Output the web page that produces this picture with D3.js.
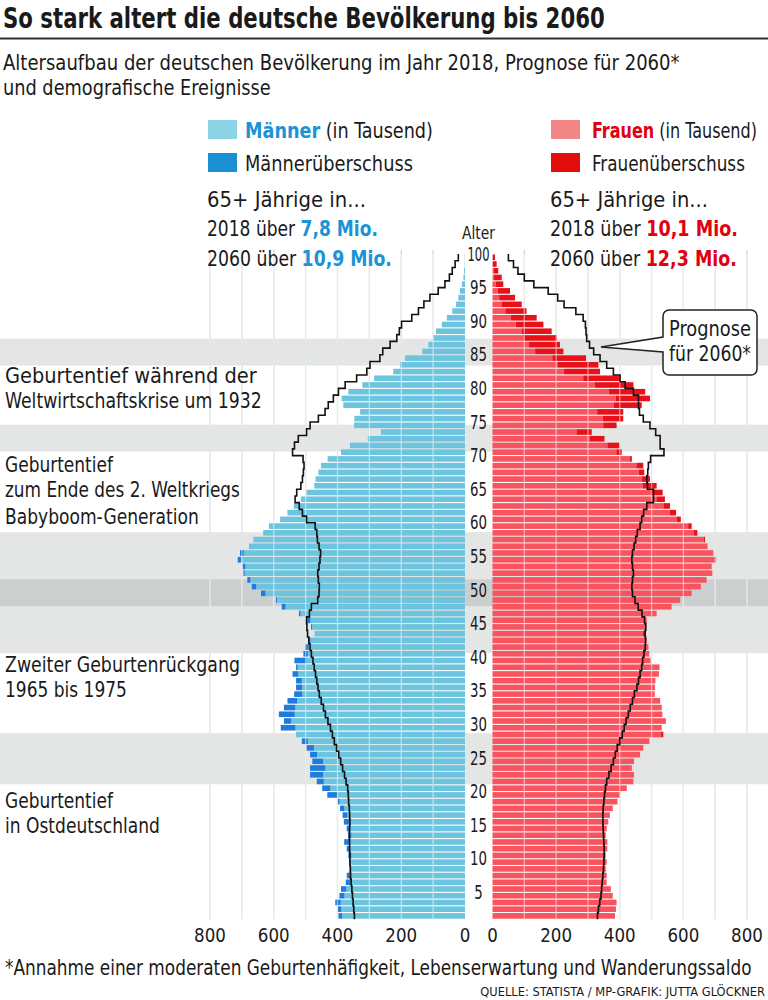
<!DOCTYPE html>
<html>
<head>
<meta charset="utf-8">
<script src="https://cdn.jsdelivr.net/npm/d3@7"></script>
<style>
  html, body { margin: 0; padding: 0; background: #fff; }
  svg { display: block; }
</style>
</head>
<body>
<svg id="chart" width="768" height="1000"></svg>
<script>
// ---------------- DATA ----------------
// Ages 1..99 (bottom bar = 1)
const ages = d3.range(1, 100);

const men2018 = [397,399,407,394,389,374,371,361,364,366,
  371,379,366,371,380,384,392,399,432,448,
  465,486,486,479,486,497,512,530,578,568,
  584,568,557,536,530,530,541,530,535,507,
  502,492,472,483,495,521,575,593,640,669,
  683,695,697,713,706,677,664,633,615,580,
  557,537,515,497,473,469,460,452,431,389,
  361,305,264,348,347,329,382,387,366,322,
  285,225,204,188,134,115,99,91,73,57,
  40,28,21,16,10,5,3,1,1];

const women2018 = [385,388,390,378,372,359,359,356,359,356,
  361,361,356,359,364,369,378,393,401,422,
  443,445,438,445,464,474,493,537,532,545,
  534,532,527,510,511,512,523,525,497,493,
  490,485,480,480,485,516,563,590,626,655,
  673,691,689,703,694,676,668,644,626,592,
  577,558,542,535,516,495,477,474,438,406,
  399,352,312,390,411,411,469,495,480,443,
  401,338,333,294,223,212,202,186,160,139,
  107,92,71,55,34,29,18,13,8];

const men2060 = [347,349,351,353,355,357,359,360,361,361,
  362,362,363,362,361,362,363,365,366,368,
  373,378,384,390,396,403,410,416,422,430,
  438,444,451,457,461,465,469,473,477,482,
  486,490,494,496,497,488,482,462,458,457,
  460,462,458,455,453,458,463,465,470,497,
  510,520,533,528,515,510,507,505,508,541,
  535,523,497,486,460,439,429,413,397,376,
  340,308,298,267,258,235,214,206,199,167,
  146,129,110,84,63,49,40,31,21];

const women2060 = [330,333,337,341,343,345,347,349,350,351,
  351,350,349,348,347,347,348,350,352,355,
  359,366,373,380,386,392,400,408,414,420,
  427,433,440,446,454,459,464,469,472,476,
  480,481,480,482,478,470,458,448,440,438,
  440,443,440,438,440,445,450,455,464,469,
  475,485,506,506,487,485,488,490,497,539,
  527,527,513,495,474,462,459,459,443,417,
  401,380,359,338,318,305,296,294,292,285,
  262,225,205,175,130,100,80,66,50];

const ageTicks = [5,10,15,20,25,30,35,40,45,50,55,60,65,70,75,80,85,90,95,100];
const valueTicks = [0,200,400,600,800];
const gridValues = [100,200,300,400,500,600,700,800];

// demographic event bands (age boundaries) and their labels
const eventBands = [[82.4,86.4],[69.6,73.6],[46.6,57.6],[39.6,50.6],[20.1,27.7]];
const eventLabels = [
  {lines:["Geburtentief während der","Weltwirtschaftskrise um 1932"], y:383, w:[252,257]},
  {lines:["Geburtentief","zum Ende des 2. Weltkriegs"], y:472, w:[108,235]},
  {lines:["Babyboom-Generation"], y:524, w:[194]},
  {lines:["Zweiter Geburtenrückgang","1965 bis 1975"], y:672, w:[235,122]},
  {lines:["Geburtentief","in Ostdeutschland"], y:808, w:[108,155]}
];

const summaryMen = {y2018:"7,8 Mio.", y2060:"10,9 Mio."};
const summaryWomen = {y2018:"10,1 Mio.", y2060:"12,3 Mio."};

// ---------------- STYLE ----------------
const FONT = "'Liberation Sans Narrow','DejaVu Sans Condensed','Roboto Condensed',Roboto,'Noto Sans',sans-serif";
const C = {
  menLight:"#6cc4de", menDark:"#1f7bdc", womenLight:"#f8535e", womenDark:"#e8111a",
  legMenLight:"#8cd3e5", legMenDark:"#1b8fd4", legWomenLight:"#f28585", legWomenDark:"#e30d0d",
  blueText:"#1b93d6", redText:"#e3000f", text:"#1a1a1a", grid:"#d3d5d5"
};

const svg = d3.select("#chart");
const W = 768;

// scales
const xL = d3.scaleLinear().domain([0,800]).range([465,210]);
const xR = d3.scaleLinear().domain([0,800]).range([492.5,747]);
const yB = d3.scaleLinear().domain([0,99]).range([919.3,254]);

// text helper: natural glyphs, horizontally scaled to the reference width
function txt(g, x, y, parts, o) {
  const gg = g.append("g").attr("transform",`translate(${x},${y})`);
  const t = gg.append("text").attr("x",0).attr("y",0)
    .attr("font-family",FONT).attr("font-size",o.size)
    .attr("font-weight",o.weight||400).attr("fill",o.fill||C.text)
    .attr("text-anchor",o.anchor||"start");
  parts.forEach(p => {
    const s = t.append("tspan").text(p.t);
    if (p.c) s.attr("fill",p.c);
    if (p.b) s.attr("font-weight",700);
  });
  if (o.len) {
    const n = t.node().getComputedTextLength();
    if (n > 0) t.attr("transform",`scale(${(o.len/n).toFixed(4)},1)`);
  }
  return t;
}

// ---------------- BACKGROUND BANDS ----------------
svg.append("g").selectAll("rect").data(eventBands).join("rect")
  .attr("x",0).attr("width",W)
  .attr("y",d=>yB(d[1])).attr("height",d=>yB(d[0])-yB(d[1]))
  .attr("fill","#0a1c1c").attr("fill-opacity",0.11);

// ---------------- GRID ----------------
const grid = svg.append("g");
grid.selectAll(".gl").data(gridValues).join("line").attr("class","gl")
  .attr("x1",d=>xL(d)).attr("x2",d=>xL(d)).attr("y1",250).attr("y2",yB(0))
  .attr("stroke",C.grid).attr("stroke-width",1.3);
grid.selectAll(".gr").data(gridValues).join("line").attr("class","gr")
  .attr("x1",d=>xR(d)).attr("x2",d=>xR(d)).attr("y1",250).attr("y2",yB(0))
  .attr("stroke",C.grid).attr("stroke-width",1.3);

// ---------------- BARS ----------------
const rows = ages.map((a,i)=>({a, m:men2018[i], f:women2018[i]}));
const bars = svg.append("g");
const by = d=>yB(d.a)+0.5, bh = d=>yB(d.a-1)-yB(d.a)-1.1;
bars.selectAll(".ml").data(rows).join("rect").attr("class","ml")
  .attr("x",d=>xL(Math.min(d.m,d.f))).attr("width",d=>xL(0)-xL(Math.min(d.m,d.f)))
  .attr("y",by).attr("height",bh).attr("fill",C.menLight);
bars.selectAll(".md").data(rows.filter(d=>d.m>d.f)).join("rect").attr("class","md")
  .attr("x",d=>xL(d.m)).attr("width",d=>xL(d.f)-xL(d.m))
  .attr("y",by).attr("height",bh).attr("fill",C.menDark);
bars.selectAll(".wl").data(rows).join("rect").attr("class","wl")
  .attr("x",xR(0)).attr("width",d=>xR(Math.min(d.m,d.f))-xR(0))
  .attr("y",by).attr("height",bh).attr("fill",C.womenLight);
bars.selectAll(".wd").data(rows.filter(d=>d.f>d.m)).join("rect").attr("class","wd")
  .attr("x",d=>xR(d.m)).attr("width",d=>xR(d.f)-xR(d.m))
  .attr("y",by).attr("height",bh).attr("fill",C.womenDark);

// light grid overlay over bars
const ov = svg.append("g");
ov.selectAll(".ol").data(gridValues).join("line").attr("class","ol")
  .attr("x1",d=>xL(d)).attr("x2",d=>xL(d)).attr("y1",yB(99)).attr("y2",yB(0))
  .attr("stroke","#fff").attr("stroke-opacity",0.5).attr("stroke-width",1.3);
ov.selectAll(".or").data(gridValues).join("line").attr("class","or")
  .attr("x1",d=>xR(d)).attr("x2",d=>xR(d)).attr("y1",yB(99)).attr("y2",yB(0))
  .attr("stroke","#fff").attr("stroke-opacity",0.5).attr("stroke-width",1.3);

// ---------------- 2060 STEP LINES ----------------
function stepPts(vals, xs) {
  const pts = [];
  vals.forEach((v,i)=>{ const a = ages[i]; pts.push([xs(v), yB(a-1)], [xs(v), yB(a)]); });
  return pts;
}
const line = d3.line();
svg.append("path").attr("d", line(stepPts(men2060, xL)))
  .attr("fill","none").attr("stroke","#111").attr("stroke-width",1.6);
svg.append("path").attr("d", line(stepPts(women2060, xR)))
  .attr("fill","none").attr("stroke","#111").attr("stroke-width",1.6);

// ---------------- AGE AXIS ----------------
const ax = svg.append("g");
const ageLabelW = s => s.length === 3 ? 22 : (s.length === 2 ? 17 : 8.5);
ageTicks.forEach(t => txt(ax, 478.5, yB(t-1)+6.5, [{t:String(t)}], {size:19, anchor:"middle", len: ageLabelW(String(t))}));
txt(svg, 478.5, 239, [{t:"Alter"}], {size:17, anchor:"middle", len:33});

// value axes
const vx = svg.append("g");
valueTicks.forEach(v => txt(vx, xL(v), 942, [{t:String(v)}], {size:20, anchor:"middle", len:String(v).length*10.6}));
valueTicks.forEach(v => txt(vx, xR(v), 942, [{t:String(v)}], {size:20, anchor:"middle", len:String(v).length*10.6}));

// ---------------- EVENT LABELS ----------------
const ev = svg.append("g");
eventLabels.forEach(l=>{
  l.lines.forEach((s,i)=> txt(ev, 5, l.y + i*25, [{t:s}], {size:22, len:l.w[i]}));
});

// ---------------- CALLOUT ----------------
(function(){
  const x0=663, x1=757, y0=310, y1=375, r=6;
  const p = d3.path();
  p.moveTo(x0+r,y0); p.lineTo(x1-r,y0); p.arcTo(x1,y0,x1,y0+r,r);
  p.lineTo(x1,y1-r); p.arcTo(x1,y1,x1-r,y1,r);
  p.lineTo(x0+r,y1); p.arcTo(x0,y1,x0,y1-r,r);
  p.lineTo(x0,352); p.lineTo(601,347); p.lineTo(x0,337);
  p.lineTo(x0,y0+r); p.arcTo(x0,y0,x0+r,y0,r); p.closePath();
  svg.append("path").attr("d",p.toString()).attr("fill","#fff").attr("stroke","#222").attr("stroke-width",1.5);
  txt(svg, 710, 336, [{t:"Prognose"}], {size:22, anchor:"middle", len:82});
  txt(svg, 710, 361, [{t:"für 2060*"}], {size:22, anchor:"middle", len:82});
})();

// ---------------- TITLE ----------------
txt(svg, 3, 28, [{t:"So stark altert die deutsche Bevölkerung bis 2060"}], {size:28, weight:700, len:602});
svg.append("line").attr("x1",0).attr("x2",W).attr("y1",38.5).attr("y2",38.5).attr("stroke","#333").attr("stroke-width",2);
txt(svg, 3, 70, [{t:"Altersaufbau der deutschen Bevölkerung im Jahr 2018, Prognose für 2060*"}], {size:22, len:677});
txt(svg, 3, 95, [{t:"und demografische Ereignisse"}], {size:22, len:268});

// ---------------- LEGEND ----------------
const lg = svg.append("g");
lg.append("rect").attr("x",208).attr("y",120).attr("width",29).attr("height",19).attr("fill",C.legMenLight);
lg.append("rect").attr("x",208).attr("y",153).attr("width",29).attr("height",19).attr("fill",C.legMenDark);
lg.append("rect").attr("x",551).attr("y",120).attr("width",29).attr("height",19).attr("fill",C.legWomenLight);
lg.append("rect").attr("x",551).attr("y",153).attr("width",29).attr("height",19).attr("fill",C.legWomenDark);
txt(lg, 245, 138, [{t:"Männer",c:C.blueText,b:true},{t:" (in Tausend)"}], {size:22, len:188});
txt(lg, 245, 171, [{t:"Männerüberschuss"}], {size:22, len:168});
txt(lg, 592, 138, [{t:"Frauen",c:C.redText,b:true},{t:" (in Tausend)"}], {size:22, len:165});
txt(lg, 592, 171, [{t:"Frauenüberschuss"}], {size:22, len:153});

txt(lg, 207, 207, [{t:"65+ Jährige in..."}], {size:22, len:159});
txt(lg, 207, 236, [{t:"2018 über "},{t:summaryMen.y2018,c:C.blueText,b:true}], {size:22, len:171});
txt(lg, 207, 266, [{t:"2060 über "},{t:summaryMen.y2060,c:C.blueText,b:true}], {size:22, len:185});
txt(lg, 550, 207, [{t:"65+ Jährige in..."}], {size:22, len:158});
txt(lg, 550, 236, [{t:"2018 über "},{t:summaryWomen.y2018,c:C.redText,b:true}], {size:22, len:188});
txt(lg, 550, 266, [{t:"2060 über "},{t:summaryWomen.y2060,c:C.redText,b:true}], {size:22, len:187});

// ---------------- FOOTNOTES ----------------
txt(svg, 5, 975, [{t:"*Annahme einer moderaten Geburtenhäfigkeit, Lebenserwartung und Wanderungssaldo"}], {size:21, len:747});
txt(svg, 765, 996, [{t:"QUELLE: STATISTA / MP-GRAFIK: JUTTA GLÖCKNER"}], {size:13, anchor:"end", len:285});
</script>
</body>
</html>
